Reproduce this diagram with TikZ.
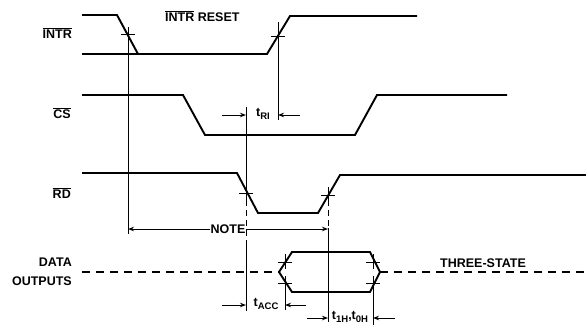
\documentclass[tikz,border=0pt]{standalone}
\usepackage{fontspec}
\setmainfont{Liberation Sans}
\usetikzlibrary{arrows.meta}
\newcommand{\ovl}[1]{$\overline{\mbox{#1}}$}
\newcommand{\tsb}[1]{\raisebox{-2.8pt}{\fontsize{9.5}{10}\selectfont #1}}
\begin{document}
\begin{tikzpicture}[x=1pt,y=-1pt,
  wave/.style={line width=1.9pt,line join=miter},
  guide/.style={line width=1pt},
  guidedash/.style={line width=1pt,dash pattern=on 6pt off 4pt},
  tri/.style={line width=1.4pt,dash pattern=on 8pt off 6pt},
  lab/.style={font=\bfseries\fontsize{12.5}{13}\selectfont,inner sep=0pt},
  dimarrow/.style={line width=1pt,-{Stealth[length=6pt,width=4.5pt]}},
  crossmark/.style={line width=1pt}]
\useasboundingbox (0,0) rectangle (586,325);

% ---- labels
\node[lab,anchor=east] (lintr) at (72,33) {\ovl{INTR}};
\node[lab,anchor=west] (lreset) at (165,16) {\ovl{INTR} RESET};
\node[lab,anchor=east] (lcs) at (71,113) {\ovl{CS}};
\node[lab,anchor=east] (lrd) at (71,193) {\ovl{RD}};
\node[lab,anchor=east] (ldata) at (72,262) {DATA};
\node[lab,anchor=east] (lout) at (72,281) {OUTPUTS};
\node[lab,anchor=west] (ltri) at (440,263) {THREE-STATE};

% ---- INTR
\coordinate (i1) at (82,15);  \coordinate (i2) at (117,15); \coordinate (i3) at (138,54);
\coordinate (i4) at (82,54);  \coordinate (i5) at (267,54); \coordinate (i6) at (290,16);
\coordinate (i7) at (417,16);
\draw[wave] (i1) -- (i2) -- (i3);
\draw[wave] (i4) -- (i5) -- (i6) -- (i7);

% ---- CS
\coordinate (c1) at (82,95);  \coordinate (c2) at (183,95); \coordinate (c3) at (205,135);
\coordinate (c4) at (355,135); \coordinate (c5) at (377,95); \coordinate (c6) at (507,95);
\draw[wave] (c1) -- (c2) -- (c3) -- (c4) -- (c5) -- (c6);

% ---- RD
\coordinate (r1) at (82,173);  \coordinate (r2) at (237,173); \coordinate (r3) at (258,213);
\coordinate (r4) at (318,213); \coordinate (r5) at (340,175); \coordinate (r6) at (586,175);
\draw[wave] (r1) -- (r2) -- (r3) -- (r4) -- (r5) -- (r6);

% ---- DATA OUTPUTS
\coordinate (d0) at (82,272); \coordinate (dl) at (279,272); \coordinate (dtl) at (292,252);
\coordinate (dtr) at (370,252); \coordinate (dr) at (380,272); \coordinate (dbr) at (370,292);
\coordinate (dbl) at (292,292); \coordinate (dend) at (586,272);
\draw[tri] (d0) -- (dl);
\draw[tri] (dr) -- (dend);
\draw[wave] (dl) -- (dtl) -- (dtr) -- (dr) -- (dbr) -- (dbl) -- cycle;

% ---- crosses (horizontal ticks)
\foreach \x/\y in {128/34, 278/36, 246/193, 328/195, 285/262, 285/283, 373/262, 373/283}
  \draw[crossmark] (\x-7,\y) -- (\x+7,\y);
\foreach \x/\y in {285/262, 373/262}
  \draw[crossmark] (\x,\y-8) -- (\x,\y+7);

% ---- vertical reference lines
\coordinate (v1a) at (128,27);  \coordinate (v1b) at (128,234);
\coordinate (v2a) at (278,22);  \coordinate (v2b) at (278,120);
\coordinate (v3a) at (246,107); \coordinate (v3b) at (246,200); \coordinate (v3c) at (246,240); \coordinate (v3d) at (246,311);
\coordinate (v4a) at (328,187); \coordinate (v4b) at (328,200); \coordinate (v4c) at (328,228); \coordinate (v4d) at (328,322);
\coordinate (v5a) at (285,276); \coordinate (v5b) at (285,310);
\coordinate (v6a) at (373,276); \coordinate (v6b) at (373,325);
\draw[guide] (v1a) -- (v1b);
\draw[guide] (v2a) -- (v2b);
\draw[guide] (v3a) -- (v3b);
\draw[guidedash] (v3b) -- (v3c);
\draw[guide] (v3c) -- (v3d);
\draw[guide] (v4a) -- (v4b);
\draw[guidedash] (v4b) -- (v4c);
\draw[guide] (v4c) -- (v4d);
\draw[guide] (v5a) -- (v5b);
\draw[guide] (v6a) -- (v6b);

% ---- dimension: tRI
\coordinate (tr1) at (222,115); \coordinate (tr2) at (246,115);
\coordinate (tr3) at (300,115); \coordinate (tr4) at (278,115);
\node[lab] (ttri) at (263,114) {t\tsb{RI}};
\draw[dimarrow] (tr1) -- (tr2);
\draw[dimarrow] (tr3) -- (tr4);

% ---- dimension: NOTE
\node[lab] (tnote) at (228,229) {NOTE};
\coordinate (n1) at (128,229); \coordinate (n2) at (328,229);
\draw[dimarrow] (tnote.west) -- (n1);
\draw[dimarrow] (tnote.east) -- (n2);

% ---- dimension: tACC
\coordinate (ta1) at (222,305); \coordinate (ta2) at (246,305);
\coordinate (ta3) at (306,305); \coordinate (ta4) at (285,305);
\node[lab] (ttacc) at (266,304) {t\tsb{ACC}};
\draw[dimarrow] (ta1) -- (ta2);
\draw[dimarrow] (ta3) -- (ta4);

% ---- dimension: t1H,t0H
\coordinate (th1) at (307,318); \coordinate (th2) at (328,318);
\coordinate (th3) at (395,318); \coordinate (th4) at (373,318);
\node[lab] (ttoh) at (350,317) {t\tsb{1H},t\tsb{0H}};
\draw[dimarrow] (th1) -- (th2);
\draw[dimarrow] (th3) -- (th4);
\end{tikzpicture}
\end{document}
